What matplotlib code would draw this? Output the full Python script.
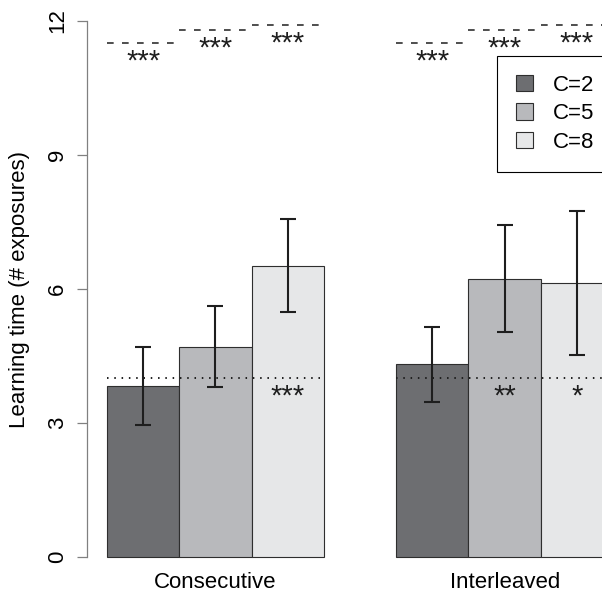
import matplotlib
matplotlib.use("Agg")
import matplotlib.pyplot as plt

plt.rcParams['font.family'] = ['Liberation Sans', 'DejaVu Sans']
plt.rcParams['lines.scale_dashes'] = False

# ---------------- data ----------------
groups = ["Consecutive", "Interleaved"]
conditions = ["C=2", "C=5", "C=8"]
consecutive_mean = [3.83, 4.70, 6.51]
consecutive_upper = [4.70, 5.61, 7.55]
consecutive_lower = [2.95, 3.79, 5.48]
interleaved_mean = [4.31, 6.22, 6.13]
interleaved_upper = [5.15, 7.43, 7.75]
interleaved_lower = [3.46, 5.02, 4.52]
chance_level = 4
ceiling_levels = [11.5, 11.8, 11.9]
ceiling_sig = [["***", "***", "***"], ["***", "***", "***"]]
chance_sig = [["", "", "***"], ["", "**", "*"]]
y_ticks = [0, 3, 6, 9, 12]
y_label = "Learning time (# exposures)"

means = [consecutive_mean, interleaved_mean]
uppers = [consecutive_upper, interleaved_upper]
lowers = [consecutive_lower, interleaved_lower]

# ---------------- style ----------------
colors = ["#6d6e71", "#b8b9bc", "#e6e7e8"]
edge = "#2e2e2e"
W, H = 602, 596

fig = plt.figure(figsize=(W / 100, H / 100), dpi=100)
ax_l, ax_r, ax_t, ax_b = 86.7, 602, 20.7, 556.7
ax = fig.add_axes([ax_l / W, 1 - ax_b / H, (ax_r - ax_l) / W, (ax_b - ax_t) / H])

bar_px = 72.3
first_left = 107
ax.set_xlim(1 + (ax_l - first_left) / bar_px, 1 + (ax_r - first_left) / bar_px)
ax.set_ylim(0, 12)

n = len(conditions)
group_start = [1 + g * (n + 1) for g in range(len(groups))]

for i, cond in enumerate(conditions):
    xs = [group_start[g] + i + 0.5 for g in range(len(groups))]
    hs = [means[g][i] for g in range(len(groups))]
    ax.bar(xs, hs, width=1.0, color=colors[i], edgecolor=edge, linewidth=0.8,
           label=cond, clip_on=False, zorder=2)
    for g in range(len(groups)):
        m = means[g][i]
        ax.errorbar(xs[g], m, yerr=[[m - lowers[g][i]], [uppers[g][i] - m]],
                    fmt='none', ecolor='#1e1e1e', elinewidth=1.5, capsize=5.8,
                    capthick=1.5, zorder=4, clip_on=False)

sig_offset = 0.6
for g in range(len(groups)):
    s = group_start[g]
    # chance level dotted line
    ax.plot([s, s + n], [chance_level, chance_level], color='#1e1e1e', lw=1.4,
            linestyle=(0, (1.1, 4.15)), zorder=3)
    for i in range(n):
        xl, xc = s + i, s + i + 0.5
        ax.plot([xl, xl + 1], [ceiling_levels[i]] * 2, color='#1e1e1e', lw=1.1,
                linestyle=(0, (4.8, 6.0)), zorder=3, clip_on=False)
        ax.text(xc, ceiling_levels[i] - sig_offset, ceiling_sig[g][i], ha='center',
                va='baseline', fontsize=21, color='#1e1e1e', zorder=5)
        if chance_sig[g][i]:
            ax.text(xc, chance_level - sig_offset, chance_sig[g][i], ha='center',
                    va='baseline', fontsize=21, color='#1e1e1e', zorder=5)

# axes styling
for side in ['top', 'right', 'bottom']:
    ax.spines[side].set_visible(False)
ax.spines['left'].set_color('#808080')
ax.spines['left'].set_linewidth(0.9)
ax.spines['left'].set_bounds(0, 12)
ax.set_yticks(y_ticks, labels=[str(t) for t in y_ticks], rotation=90, va='center')
ax.tick_params(axis='y', length=7, width=0.9, color='#808080', pad=6.5, labelsize=16)
ax.set_xticks([s + n / 2 for s in group_start], labels=groups)
ax.tick_params(axis='x', length=0, pad=11, labelsize=16)

fig.text(20 / W, 1 - 289 / H, y_label, rotation=90, ha='center', va='center', fontsize=16)

leg = ax.legend(loc='upper left', bbox_to_anchor=(496.7 / W, 1 - 56 / H),
                bbox_transform=fig.transFigure, borderaxespad=0, frameon=True,
                fancybox=False, edgecolor='black', framealpha=1, fontsize=16,
                handlelength=0.77, handleheight=0.77, handletextpad=0.9,
                borderpad=0.85, labelspacing=0.33)
leg.get_frame().set_linewidth(0.8)

fig.savefig("out.png", dpi=100)
